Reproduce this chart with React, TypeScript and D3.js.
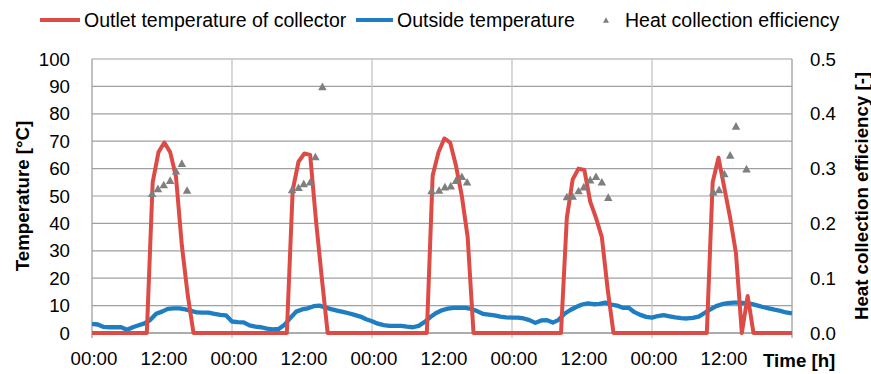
import React from "react";
import { scaleLinear, line } from "d3";

// outside temperature, one value per hour from 00:00 of day 1 (0..120 h)
const outsideTemp = [
  3.3, 3.1, 2.2, 2.1, 2.1, 2.1, 1.2, 2.1, 2.8, 3.5, 4.8, 7.0, 7.8, 8.8, 9.0, 9.0, 8.6, 8.1, 7.5, 7.4, 7.4, 7.0, 6.6, 6.4,
  4.2, 4.0, 3.9, 2.8, 2.3, 2.1, 1.6, 1.3, 1.5, 3.0, 5.5, 7.8, 8.6, 9.0, 9.8, 10.0, 9.3, 8.7, 8.2, 7.7, 7.2, 6.6, 6.0, 5.0,
  4.3, 3.4, 2.9, 2.6, 2.6, 2.6, 2.3, 2.1, 2.6, 4.0, 5.8, 7.3, 8.3, 8.9, 9.2, 9.2, 9.2, 8.8, 8.0, 7.0, 6.7, 6.4, 6.0, 5.7,
  5.6, 5.6, 5.3, 4.7, 3.7, 4.6, 4.7, 3.8, 4.8, 7.0, 8.4, 9.5, 10.4, 10.8, 10.5, 10.6, 11.1, 10.4, 10.0, 9.2, 9.2, 7.6, 6.6, 5.9,
  5.6, 6.2, 6.5, 6.1, 5.7, 5.4, 5.3, 5.5, 6.0, 7.3, 8.6, 9.8, 10.5, 10.9, 11.1, 11.1, 10.9, 10.6, 10.1, 9.5, 9.0, 8.5, 8.1, 7.5,
  7.2,
];

// outlet temperature of collector
const outletHours = [
  0, 9.4, 10.4, 11.4, 12.4, 13.4, 14.4, 15.4, 16.4, 17.4,
  33.4, 34.4, 35.4, 36.4, 37.4, 38.4, 39.4, 40.4,
  57.4, 58.4, 59.4, 60.4, 61.4, 62.4, 63.4, 64.4, 65.4,
  80.4, 81.4, 82.4, 83.4, 84.4, 85.4, 86.4, 87.4, 88.4, 89.4,
  105.4, 106.4, 107.4, 108.4, 109.4, 110.4, 111.4, 112.4, 113.4, 120,
];
const outletTemp = [
  0, 0, 55, 66, 69.5, 66, 57, 32, 14, 0,
  0, 52, 62.5, 65.5, 65, 41, 20, 0,
  0, 57.5, 66, 71, 69.5, 61, 50, 35, 0,
  0, 42, 56, 60, 59.5, 48, 42, 35, 16, 0,
  0, 55, 64, 53, 42, 29, 0, 13.5, 0, 0,
];

// heat collection efficiency
const effHours = [
  10.3, 11.3, 12.3, 13.4, 14.4, 15.4, 16.3,
  34.3, 35.4, 36.3, 37.4, 38.3, 39.5,
  58.2, 59.5, 60.5, 61.5, 62.4, 63.4, 64.3,
  81.4, 82.4, 83.4, 84.3, 85.4, 86.4, 87.4, 88.5,
  106.5, 107.5, 108.4, 109.4, 110.4, 112.2,
];
const efficiency = [
  0.255, 0.264, 0.271, 0.279, 0.296, 0.31, 0.261,
  0.262, 0.266, 0.273, 0.276, 0.322, 0.45,
  0.26, 0.261, 0.267, 0.269, 0.279, 0.286, 0.276,
  0.249, 0.25, 0.26, 0.267, 0.28, 0.286, 0.276, 0.248,
  0.258, 0.262, 0.291, 0.325, 0.378, 0.3,
];

const xTickHours = [0, 12, 24, 36, 48, 60, 72, 84, 96, 108];
const xTickLabels = ["00:00", "12:00", "00:00", "12:00", "00:00", "12:00", "00:00", "12:00", "00:00", "12:00"];
const dayLines = [0, 24, 48, 72, 96, 120];
const leftTicks = [0, 10, 20, 30, 40, 50, 60, 70, 80, 90, 100];
const rightTicks = [0, 0.1, 0.2, 0.3, 0.4, 0.5];

const RED = "#DD4B46";
const BLUE = "#1F7DC2";
const GREY = "#7F7F7F";
const FONT = "'Liberation Sans', Arial, sans-serif";
const FS = 18.7;
const LEGEND_FS = 19.5;

function Triangle({ cx, cy, s = 8 }: { cx: number; cy: number; s?: number }) {
  const h = s * 0.9;
  return (
    <path
      d={`M${cx},${cy - h / 2}L${cx + s / 2},${cy + h / 2}L${cx - s / 2},${cy + h / 2}Z`}
      fill={GREY}
    />
  );
}

export default function App() {
  const W = 871;
  const H = 374;
  const x = scaleLinear().domain([0, 120]).range([92, 792]);
  const yL = scaleLinear().domain([0, 100]).range([333, 59]);
  const yR = scaleLinear().domain([0, 0.5]).range([333, 59]);

  const blueLine = line<number>()
    .x((_, i) => x(i))
    .y((d) => yL(d));
  const redLine = line<number>()
    .x((_, i) => x(outletHours[i]))
    .y((d) => yL(d));

  return (
    <svg
      width={W}
      height={H}
      style={{ position: "absolute", left: 0, top: 0, background: "#fff" }}
      fontFamily={FONT}
    >
      {/* horizontal grid */}
      {leftTicks.map((t) => (
        <line key={t} x1={x(0)} x2={x(120)} y1={yL(t)} y2={yL(t)} stroke="#A0A0A0" strokeWidth={1.2} />
      ))}
      {/* day lines */}
      {dayLines.map((d) => (
        <line
          key={d}
          x1={x(d)}
          x2={x(d)}
          y1={yL(100)}
          y2={yL(0) + 5}
          stroke={d === 0 || d === 120 ? "#A0A0A0" : "#C4C4C4"}
          strokeWidth={1.3}
        />
      ))}
      <line x1={x(0)} x2={x(120)} y1={yL(0)} y2={yL(0)} stroke="#A0A0A0" strokeWidth={1.3} />

      {/* left axis labels */}
      {leftTicks.map((t) => (
        <text key={t} x={70} y={yL(t)} dy="0.35em" textAnchor="end" fontSize={FS} fill="#000">
          {t}
        </text>
      ))}
      {/* right axis labels */}
      {rightTicks.map((t) => (
        <text key={t} x={810} y={yR(t)} dy="0.35em" textAnchor="start" fontSize={FS} fill="#000">
          {t.toFixed(1)}
        </text>
      ))}
      {/* x labels */}
      {xTickHours.map((h, i) => (
        <text key={h} x={x(h) + 2} y={364.5} textAnchor="middle" fontSize={FS} fill="#000">
          {xTickLabels[i]}
        </text>
      ))}
      <text x={763} y={367} fontSize={FS} fontWeight="bold" fill="#000">
        Time [h]
      </text>

      {/* axis titles */}
      <text
        transform={`translate(22.5,${(yL(0) + yL(100)) / 2}) rotate(-90)`}
        textAnchor="middle"
        dominantBaseline="central"
        fontSize={FS}
        fontWeight="bold"
        fill="#000"
      >
        Temperature [°C]
      </text>
      <text
        transform={`translate(861,${(yL(0) + yL(100)) / 2}) rotate(-90)`}
        textAnchor="middle"
        dominantBaseline="central"
        fontSize={FS}
        fontWeight="bold"
        fill="#000"
      >
        Heat collection efficiency [-]
      </text>

      {/* series */}
      <path d={blueLine(outsideTemp) ?? ""} fill="none" stroke={BLUE} strokeWidth={4.3} strokeLinejoin="round" />
      <path d={redLine(outletTemp) ?? ""} fill="none" stroke={RED} strokeWidth={4} strokeLinejoin="round" />
      {efficiency.map((e, i) => (
        <Triangle key={i} cx={x(effHours[i])} cy={yR(e)} s={8.5} />
      ))}

      {/* legend */}
      <line x1={40} x2={80} y1={20} y2={20} stroke={RED} strokeWidth={4} />
      <text x={84} y={26.5} fontSize={LEGEND_FS} fill="#000">
        Outlet temperature of collector
      </text>
      <line x1={356} x2={393} y1={20} y2={20} stroke={BLUE} strokeWidth={4} />
      <text x={397} y={26.5} fontSize={LEGEND_FS} fill="#000">
        Outside temperature
      </text>
      <Triangle cx={606} cy={20} s={6} />
      <text x={625} y={26.5} fontSize={LEGEND_FS} fill="#000">
        Heat collection efficiency
      </text>
    </svg>
  );
}
